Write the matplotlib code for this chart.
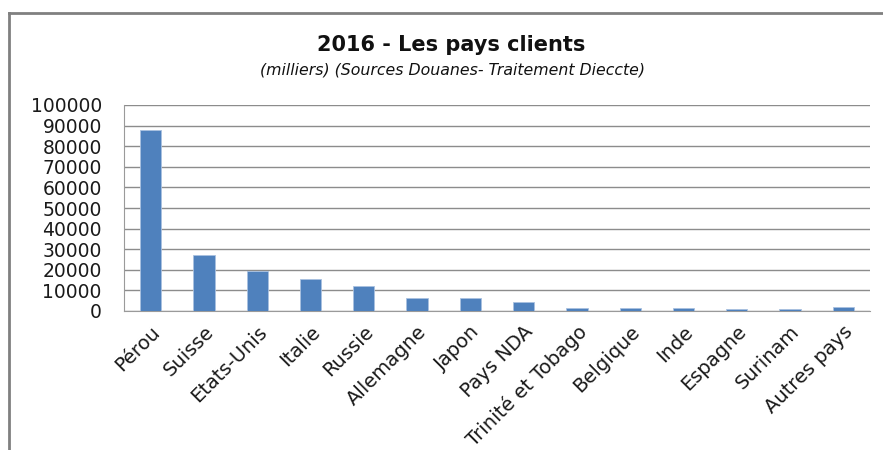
import numpy as np
import matplotlib.pyplot as plt
from matplotlib.lines import Line2D

# pays clients 2016 (milliers)
pays = ['Pérou', 'Suisse', 'Etats-Unis', 'Italie', 'Russie', 'Allemagne', 'Japon',
        'Pays NDA', 'Trinité et Tobago', 'Belgique', 'Inde', 'Espagne', 'Surinam',
        'Autres pays']
valeurs = [88000, 27200, 19600, 15300, 11900, 6200, 6200,
           4600, 1600, 1600, 1600, 1100, 800, 2100]
yticks = np.arange(0, 100001, 10000)

plt.rcParams['font.family'] = ['DejaVu Sans']

fig = plt.figure(figsize=(8.83, 4.5), dpi=100)
ax = fig.add_axes([124/883, 1 - 311/450, (870-124)/883, (311-105)/450])

x = np.arange(len(pays))
ax.bar(x, valeurs, width=0.4, color='#4F81BD', edgecolor='#a9c1e0', linewidth=0.6, zorder=3)

ax.set_ylim(0, 100000)
ax.set_xlim(-0.5, len(pays) - 0.5)
ax.set_yticks(yticks)
ax.set_yticklabels([str(v) for v in yticks], fontsize=13.5, color='#1a1a1a')
ax.set_xticks(x)
ax.set_xticklabels(pays, rotation=45, ha='right', rotation_mode='anchor', fontsize=14, color='#1a1a1a')
ax.tick_params(axis='x', length=0, pad=8)
ax.tick_params(axis='y', length=0, pad=16)
ax.grid(axis='y', color='#8c8c8c', linewidth=1.0, zorder=0)
for s in ['top', 'right']:
    ax.spines[s].set_visible(False)
ax.spines['left'].set_color('#9a9a9a')
ax.spines['bottom'].set_color('#9a9a9a')

fig.text(451/883, 1 - 45/450, '2016 - Les pays clients', ha='center', va='center',
         fontsize=15, fontweight='bold', color='#111111')
fig.text(452/883, 1 - 70/450, '(milliers) (Sources Douanes- Traitement Dieccte)', ha='center', va='center',
         fontsize=11.3, style='italic', color='#111111')

# cadre du graphique
fig.add_artist(Line2D([9/883, 9/883], [0, 1 - 13/450], color='#808080', linewidth=2))
fig.add_artist(Line2D([9/883, 1], [1 - 13/450, 1 - 13/450], color='#808080', linewidth=2))

fig.savefig('out.png', dpi=100)
